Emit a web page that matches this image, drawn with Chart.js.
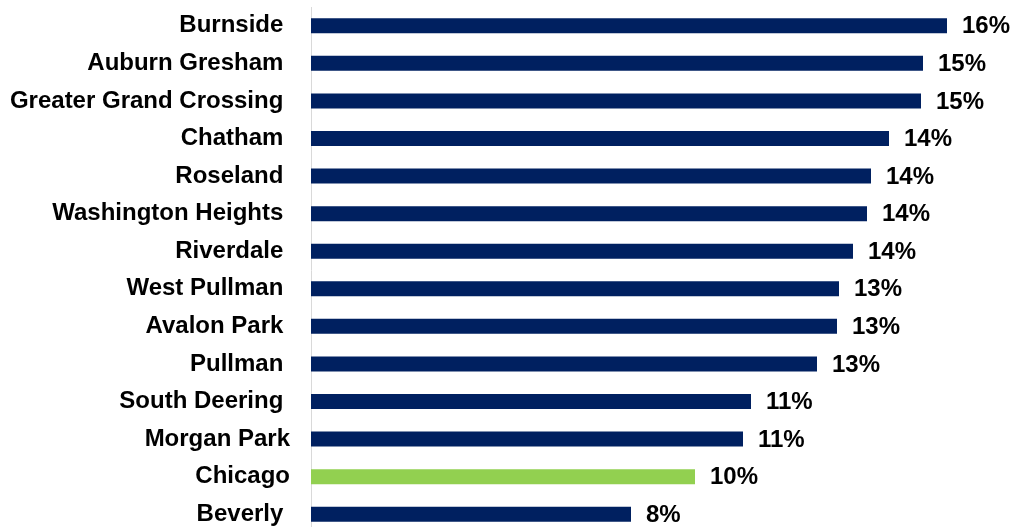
<!DOCTYPE html>
<html>
<head>
<meta charset="utf-8">
<script src="https://cdn.jsdelivr.net/npm/chart.js@4"></script>
<style>
  html, body { margin: 0; padding: 0; background: #fff; overflow: hidden; }
  #wrap { width: 1013px; height: 540px; }
</style>
</head>
<body>
<div id="wrap"><canvas id="rateChart" width="1013" height="540"></canvas></div>
<script>
// Community areas (trailing spaces kept as in the source labels)
const areas = [
  'Burnside ', 'Auburn Gresham ', 'Greater Grand Crossing ', 'Chatham ',
  'Roseland ', 'Washington Heights ', 'Riverdale ', 'West Pullman ',
  'Avalon Park ', 'Pullman ', 'South Deering ', 'Morgan Park', 'Chicago', 'Beverly '
];
// Rate, percent
const rates = [15.9, 15.3, 15.25, 14.45, 14.0, 13.9, 13.55, 13.2, 13.15, 12.65, 11.0, 10.8, 9.6, 8.0];

const NAVY = '#002060';
const GREEN = '#92D050';
const FONT = '"Liberation Sans", Arial, sans-serif';

// Chicago overall is highlighted
const barColors = areas.map(a => a.trim() === 'Chicago' ? GREEN : NAVY);

// Draw "NN%" just past the end of each bar
const valueLabels = {
  id: 'valueLabels',
  afterDatasetsDraw(chart) {
    const ctx = chart.ctx;
    const meta = chart.getDatasetMeta(0);
    ctx.save();
    ctx.font = 'bold 24px ' + FONT;
    ctx.fillStyle = '#000';
    ctx.textAlign = 'left';
    ctx.textBaseline = 'middle';
    meta.data.forEach((bar, i) => {
      ctx.fillText(Math.round(rates[i]) + '%', bar.x + 15, bar.y + 1);
    });
    ctx.restore();
  }
};

const ctx = document.getElementById('rateChart').getContext('2d');
new Chart(ctx, {
  type: 'bar',
  data: {
    labels: areas,
    datasets: [{
      data: rates,
      backgroundColor: barColors,
      borderWidth: 0,
      barPercentage: 0.4,
      categoryPercentage: 1
    }]
  },
  options: {
    indexAxis: 'y',
    responsive: false,
    animation: false,
    layout: { padding: { top: 7, bottom: 7, left: 0, right: 2 } },
    plugins: {
      legend: { display: false },
      tooltip: { enabled: false }
    },
    scales: {
      x: {
        display: false,
        min: 0,
        max: 17.5
      },
      y: {
        afterFit(scale) {
          // fixed label column, and no extra room above/below the bars
          scale.width = 311;
          scale.paddingTop = 0;
          scale.paddingBottom = 0;
        },
        grid: { display: false },
        border: { display: true, color: '#D9D9D9', width: 1 },
        ticks: {
          padding: 13,
          color: '#000',
          font: { family: FONT, size: 24, weight: 'bold' },
          autoSkip: false
        }
      }
    }
  },
  plugins: [valueLabels]
});
</script>
</body>
</html>
